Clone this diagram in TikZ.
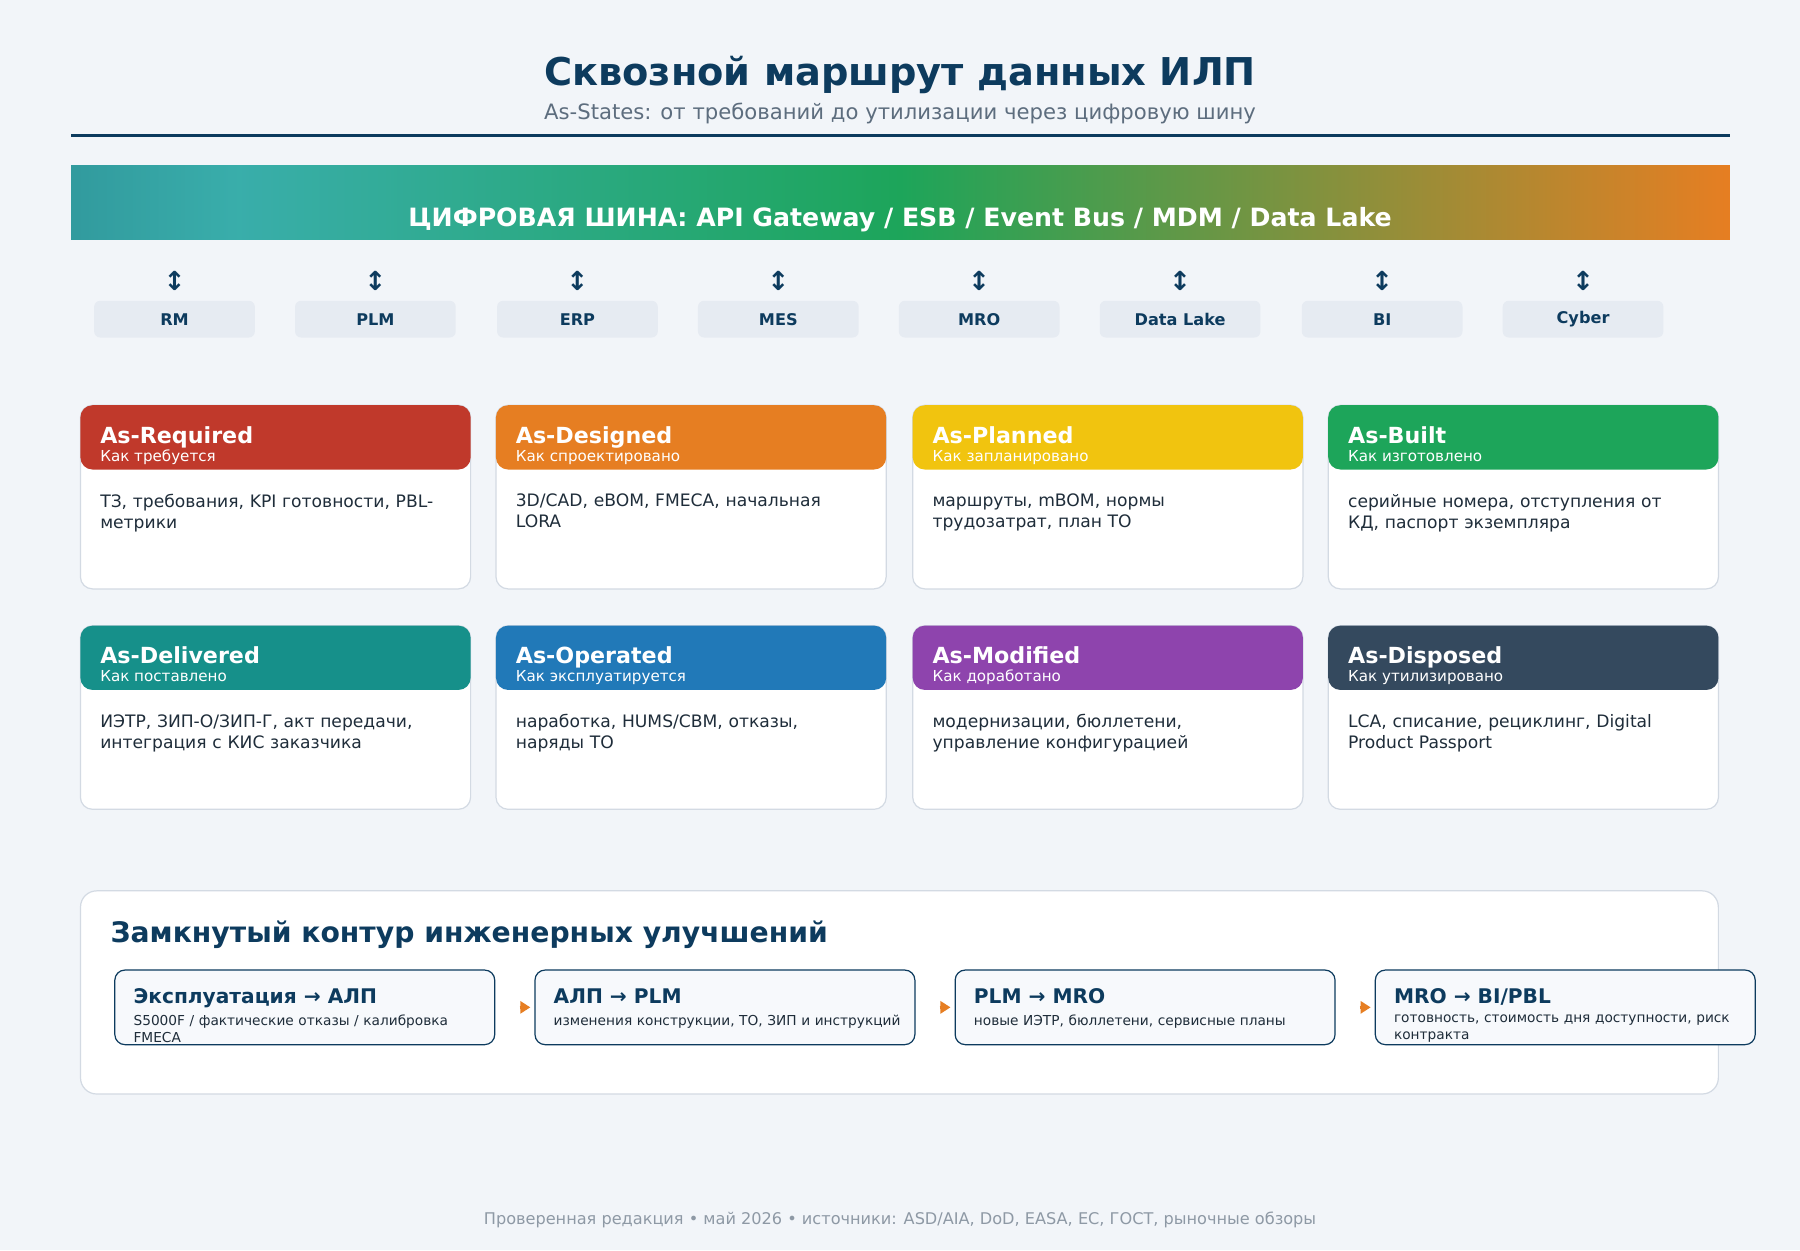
\documentclass[tikz,border=0pt]{standalone}
\usepackage{fontspec}
\setmainfont{DejaVu Sans}
\usetikzlibrary{positioning,arrows.meta}
\definecolor{navy}{HTML}{0D3B5E}
\definecolor{bg}{HTML}{F2F5F9}
\definecolor{chip}{HTML}{E6EBF2}
\definecolor{edge}{HTML}{D3DAE3}
\definecolor{cRed}{HTML}{C0392B}
\definecolor{cOrange}{HTML}{E67E22}
\definecolor{cYellow}{HTML}{F1C40F}
\definecolor{cGreen}{HTML}{1DA55A}
\definecolor{cTeal}{HTML}{16908A}
\definecolor{cBlue}{HTML}{2179B8}
\definecolor{cPurple}{HTML}{8E44AD}
\definecolor{cSlate}{HTML}{34495E}
\definecolor{subgray}{HTML}{5D6D7E}
\definecolor{bodytext}{HTML}{1F2D3A}
\definecolor{stepfill}{HTML}{F7F9FC}
\pgfdeclarehorizontalshading{bus}{100bp}{color(0bp)=(navy); color(30bp)=(cTeal!70!cyan!80!white!90!black); color(50bp)=(cGreen); color(75bp)=(cOrange); color(100bp)=(cRed)}
\tikzset{
  chipbox/.style={fill=chip, rounded corners=3pt, minimum width=2.8cm, minimum height=0.64cm, font=\fontsize{8}{9}\selectfont\bfseries, text=navy},
  cardbox/.style={draw=edge, fill=white, rounded corners=6pt, minimum width=6.8cm, minimum height=3.2cm, line width=0.6pt},
  cardhead/.style={rounded corners=6pt, minimum width=6.8cm, minimum height=1.12cm},
  cardtitle/.style={anchor=base west, text=white, font=\fontsize{11}{12}\selectfont\bfseries, inner sep=0pt},
  cardsub/.style={anchor=base west, text=white, font=\fontsize{7.5}{8}\selectfont, inner sep=0pt},
  cardbody/.style={anchor=north west, text=bodytext, text width=6cm, align=left, font=\fontsize{8.5}{10.5}\selectfont, inner sep=0pt},
  stepbox/.style={draw=navy, fill=stepfill, rounded corners=5pt, minimum width=6.62cm, minimum height=1.3cm, line width=0.6pt},
  steptitle/.style={anchor=base west, text=navy, font=\fontsize{10}{11}\selectfont\bfseries, inner sep=0pt},
  steptext/.style={anchor=north west, text=bodytext, text width=6.2cm, align=left, font=\fontsize{6.8}{8}\selectfont, inner sep=0pt},
  looparrow/.style={-{Triangle[length=5pt,width=6pt]}, cOrange, line width=1.8pt}
}
\newcommand{\statecard}[7]{%
  \node[cardbox] (#1) at (#2+170,#3+80) {};
  \node[cardhead, fill=#4] (#1head) at (#2+170,#3+28) {};
  \node[cardtitle] (#1title) at (#2+17,#3+33) {#5};
  \node[cardsub] (#1sub) at (#2+17,#3+49) {#6};
  \node[cardbody] (#1body) at (#2+17,#3+77) {#7};
}
\newcommand{\loopstep}[4]{%
  \node[stepbox] (#1) at (#2+165.5,877.5) {};
  \node[steptitle] (#1title) at (#2+16,874) {#3};
  \node[steptext] (#1text) at (#2+16,884) {#4};
}
\begin{document}
\begin{tikzpicture}[x=0.02cm, y=-0.02cm]
  \useasboundingbox (0,0) rectangle (1568,1089);
  \fill[bg] (0,0) rectangle (1568,1089);

  % title
  \node (title) at (784,65) {\fontsize{19}{22}\selectfont\bfseries\color{navy}Сквозной маршрут данных ИЛП};
  \node (subtitle) at (784,99) {\fontsize{10.5}{12}\selectfont\color{subgray}As-States: от требований до утилизации через цифровую шину};
  \draw[navy, line width=1.3pt] (62,118) -- (1507,118);

  % bus
  \shade[shading=bus] (62,144) rectangle (1507,209);
  \node (bus) at (784,191) {\fontsize{12.5}{14}\selectfont\bfseries\color{white}ЦИФРОВАЯ ШИНА: API Gateway / ESB / Event Bus / MDM / Data Lake};

  \foreach \x/\name/\txt in {152/rm/RM/MBSE, 327/plm/PLM/PDM, 503/erp/ERP, 678/mes/MES/MOM, 853/mro/MRO/EAM, 1028/lake/Data Lake/AI, 1204/bi/BI/EPM, 1379/cyber/Cyber/IAM}{
    \node[chipbox] (\name) at (\x,278) {\txt};
    \node[text=navy, font=\fontsize{13}{13}\selectfont\bfseries] (\name arr) at (\x,245) {↕};
  }

  % state cards
  \statecard{req}{70}{353}{cRed}{As-Required}{Как требуется}{ТЗ, требования, KPI готовности, PBL-метрики}
  \statecard{des}{432}{353}{cOrange}{As-Designed}{Как спроектировано}{3D/CAD, eBOM, FMECA, начальная LORA}
  \statecard{pla}{795}{353}{cYellow}{As-Planned}{Как запланировано}{маршруты, mBOM, нормы трудозатрат, план ТО}
  \statecard{bui}{1157}{353}{cGreen}{As-Built}{Как изготовлено}{серийные номера, отступления от КД, паспорт экземпляра}
  \statecard{del}{70}{545}{cTeal}{As-Delivered}{Как поставлено}{ИЭТР, ЗИП-О/ЗИП-Г, акт передачи, интеграция с КИС заказчика}
  \statecard{ope}{432}{545}{cBlue}{As-Operated}{Как эксплуатируется}{наработка, HUMS/CBM, отказы, наряды ТО}
  \statecard{mod}{795}{545}{cPurple}{As-Modified}{Как доработано}{модернизации, бюллетени, управление конфигурацией}
  \statecard{dis}{1157}{545}{cSlate}{As-Disposed}{Как утилизировано}{LCA, списание, рециклинг, Digital Product Passport}

  % closed loop
  \node[draw=edge, fill=white, rounded corners=8pt, minimum width=28.54cm, minimum height=3.54cm, line width=0.6pt] (loop) at (783.5,864.5) {};
  \node[anchor=base west, inner sep=0pt, text=navy, font=\fontsize{14}{16}\selectfont\bfseries] (looptitle) at (96,821) {Замкнутый контур инженерных улучшений};
  \loopstep{s1}{100}{Эксплуатация → АЛП}{S5000F / фактические отказы / калибровка FMECA}
  \loopstep{s2}{466}{АЛП → PLM}{изменения конструкции, ТО, ЗИП и инструкций}
  \loopstep{s3}{832}{PLM → MRO}{новые ИЭТР, бюллетени, сервисные планы}
  \loopstep{s4}{1198}{MRO → BI/PBL}{готовность, стоимость дня доступности, риск контракта}
  \draw[looparrow] ([xshift=12]s1.east) -- ([xshift=-2]s2.west);
  \draw[looparrow] ([xshift=12]s2.east) -- ([xshift=-2]s3.west);
  \draw[looparrow] ([xshift=12]s3.east) -- ([xshift=-2]s4.west);

  % footer
  \node (footer) at (784,1063) {\fontsize{8}{9}\selectfont\color{subgray!70}Проверенная редакция • май 2026 • источники: ASD/AIA, DoD, EASA, ЕС, ГОСТ, рыночные обзоры};
\end{tikzpicture}
\end{document}
